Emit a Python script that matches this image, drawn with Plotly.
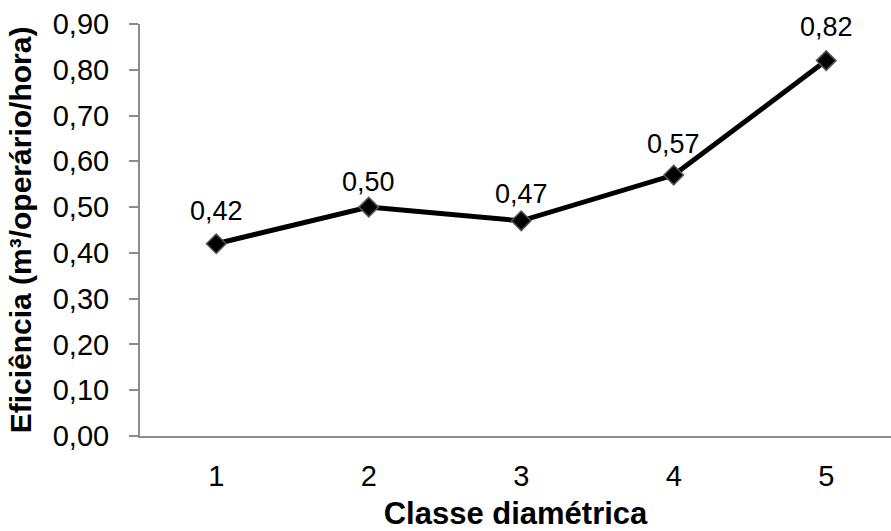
import plotly.graph_objects as go

# Efficiency by diameter class
classes = [1, 2, 3, 4, 5]
efficiency = [0.42, 0.50, 0.47, 0.57, 0.82]
y_ticks = [0.0, 0.1, 0.2, 0.3, 0.4, 0.5, 0.6, 0.7, 0.8, 0.9]

# vertical offset (px) of each value label above its point
label_shift = [33, 25, 27, 31, 34]

FONT = "Arial, 'Liberation Sans', sans-serif"
AXIS_GREY = "#8c8c8c"


def fmt(v):
    return f"{v:.2f}".replace(".", ",")


fig = go.Figure()
fig.add_trace(go.Scatter(
    x=classes,
    y=efficiency,
    mode="lines+markers",
    line=dict(color="black", width=5),
    marker=dict(symbol="diamond", size=15, color="black",
                line=dict(color="#555555", width=1.5)),
    showlegend=False,
    hoverinfo="skip",
))

for xv, yv, dy in zip(classes, efficiency, label_shift):
    fig.add_annotation(x=xv, y=yv, text=fmt(yv), showarrow=False,
                       yshift=dy, font=dict(family=FONT, size=27, color="black"))

fig.update_layout(
    width=891,
    height=531,
    margin=dict(l=140, r=0, t=24, b=95),
    paper_bgcolor="white",
    plot_bgcolor="white",
    separators=",.",
    font=dict(family=FONT, color="black"),
    xaxis=dict(
        range=[0.5, 5.425],
        tickmode="array",
        tickvals=classes,
        ticktext=[str(c) for c in classes],
        showgrid=False,
        zeroline=False,
        showline=True,
        linecolor=AXIS_GREY,
        linewidth=2,
        ticks="",
        tickfont=dict(size=29),
        ticklabelstandoff=13,
        title=dict(text="<b>Classe diamétrica</b>", font=dict(size=31), standoff=16),
    ),
    yaxis=dict(
        range=[0, 0.9],
        tickmode="array",
        tickvals=y_ticks,
        ticktext=[fmt(v) for v in y_ticks],
        showgrid=False,
        zeroline=False,
        showline=True,
        linecolor=AXIS_GREY,
        linewidth=2,
        ticks="outside",
        ticklen=9,
        tickcolor=AXIS_GREY,
        tickwidth=2,
        tickfont=dict(size=29),
        ticklabelstandoff=14,
        title=dict(text="<b>Eficiência (m³/operário/hora)</b>", font=dict(size=30), standoff=12),
    ),
)

fig.write_html("out.html")
